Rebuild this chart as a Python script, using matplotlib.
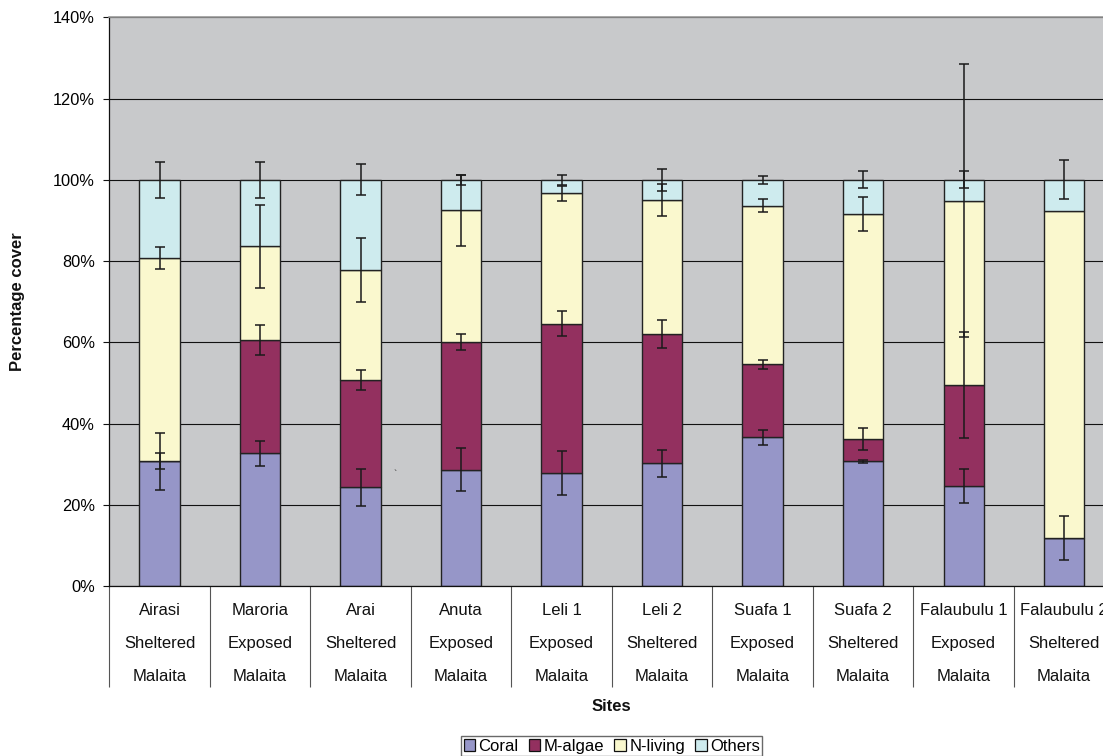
import matplotlib
matplotlib.use('Agg')
import matplotlib.pyplot as plt
import numpy as np
from matplotlib.patches import Patch
from matplotlib.ticker import FuncFormatter, MultipleLocator

plt.rcParams['font.family'] = ['Liberation Sans', 'DejaVu Sans']

sites = ['Airasi', 'Maroria', 'Arai', 'Anuta', 'Leli 1', 'Leli 2',
         'Suafa 1', 'Suafa 2', 'Falaubulu 1', 'Falaubulu 2']
exposure = ['Sheltered', 'Exposed', 'Sheltered', 'Exposed', 'Exposed',
            'Sheltered', 'Exposed', 'Sheltered', 'Exposed', 'Sheltered']
island = ['Malaita'] * 10

series_names = ['Coral', 'M-algae', 'N-living', 'Others']
coral = [30.7, 32.7, 24.3, 28.6, 27.9, 30.2, 36.6, 30.7, 24.7, 11.8]
malgae = [0.0, 27.9, 26.5, 31.4, 36.7, 31.8, 18.0, 5.5, 24.8, 0.0]
nliving = [50.0, 23.0, 27.1, 32.5, 32.1, 33.1, 39.0, 55.4, 45.4, 80.5]
others = [19.3, 16.4, 22.1, 7.5, 3.3, 4.9, 6.4, 8.4, 5.1, 7.7]

coral_err = [7.0, 3.1, 4.6, 5.3, 5.4, 3.4, 1.9, 0.4, 4.2, 5.4]
malgae_err = [2.0, 3.6, 2.5, 2.0, 3.0, 3.4, 1.1, 2.8, 13.1, 0.0]
nliving_err = [2.7, 10.3, 7.9, 8.7, 1.9, 4.0, 1.6, 4.2, 33.6, 0.0]
others_err = [4.4, 4.5, 3.8, 1.2, 1.2, 2.7, 1.0, 2.1, 2.1, 4.8]

colors = ['#9696C8', '#93305F', '#FAF8CE', '#CEEBEE']

fig = plt.figure(figsize=(11.03, 7.56), dpi=100)
ax = fig.add_axes([0.0991, 0.2249, 0.9112, 0.752])
ax.set_facecolor('#C8C9CB')

x = np.arange(len(sites))
bottom = np.zeros(len(sites))
values = [coral, malgae, nliving, others]
errs = [coral_err, malgae_err, nliving_err, others_err]
tops = []
for vals, col, name in zip(values, colors, series_names):
    v = np.array(vals)
    ax.bar(x, v, width=0.4, bottom=bottom, color=col, edgecolor='#222222',
           linewidth=1.0, zorder=2, label=name)
    bottom = bottom + v
    tops.append(bottom.copy())

for top, err in zip(tops, errs):
    e = np.array(err)
    m = e > 0
    ax.errorbar(x[m], top[m], yerr=e[m], fmt='none', ecolor='#1a1a1a',
                elinewidth=1.1, capsize=3.6, capthick=1.1, zorder=4)

ax.set_xlim(-0.5, len(sites) - 0.5)
ax.set_ylim(0, 140)
ax.yaxis.set_major_locator(MultipleLocator(20))
ax.yaxis.set_major_formatter(FuncFormatter(lambda v, p: f'{v:.0f}%'))
ax.set_axisbelow(True)
ax.grid(axis='y', color='#111111', linewidth=0.8)

for s in ['left', 'bottom']:
    ax.spines[s].set_color('#111111')
    ax.spines[s].set_linewidth(0.9)
ax.spines['top'].set_color('#999999')
ax.spines['top'].set_linewidth(1.2)
ax.spines['right'].set_visible(False)

ax.tick_params(axis='y', length=4, width=0.8, labelsize=11.8, pad=6.5,
               color='#111111')
ax.set_xticks([])
ax.set_xticks(np.arange(-0.5, len(sites), 1.0), minor=True)
ax.tick_params(axis='x', which='minor', length=72.7, width=0.8,
               color='#555555', labelbottom=False)

tr = ax.get_xaxis_transform()
row_y = [-0.0434, -0.1008, -0.1595]
for i in range(len(sites)):
    for txt, yy in zip([sites[i], exposure[i], island[i]], row_y):
        ax.text(x[i], yy, txt, transform=tr, ha='center', va='center',
                fontsize=12, color='#111111', clip_on=False)

ax.text(2.33, 26.6, '`', fontsize=7, color='#333333')

fig.text(17.5 / 1103, 0.601, 'Percentage cover', rotation=90, ha='center',
         va='center', fontsize=12, fontweight='bold', color='#111111')
fig.text(0.5546, 0.066, 'Sites', ha='center', va='center', fontsize=12,
         fontweight='bold', color='#111111')

handles = [Patch(facecolor=c, edgecolor='#111111', linewidth=0.9) for c in colors]
leg = fig.legend(handles, series_names, loc='upper center',
                 bbox_to_anchor=(0.5546, 0.026), ncol=4, frameon=True,
                 fancybox=False, edgecolor='#444444', fontsize=12,
                 handlelength=0.7, handleheight=0.7, handletextpad=0.2,
                 columnspacing=0.6, borderpad=0.15, borderaxespad=0)
leg.get_frame().set_linewidth(1.0)

fig.savefig('out.png', dpi=100)
